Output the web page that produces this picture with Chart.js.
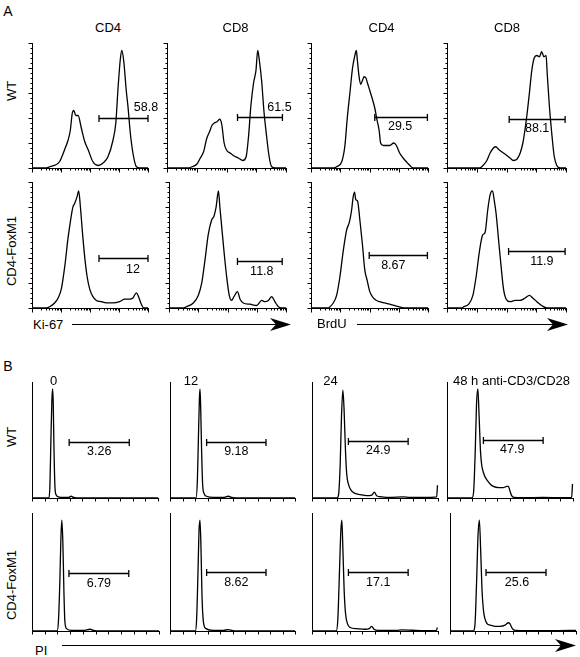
<!DOCTYPE html>
<html><head><meta charset="utf-8">
<script src="https://cdn.jsdelivr.net/npm/chart.js@4.4.1/dist/chart.umd.min.js"></script>
<style>
html,body{margin:0;padding:0;background:#fff;}
#fig{position:relative;width:580px;height:657px;overflow:hidden;font-family:"Liberation Sans",Arial,Helvetica,sans-serif;color:#000;}
#fig canvas{position:absolute;}
.t{position:absolute;font-size:13px;line-height:13px;white-space:nowrap;transform:translate(-50%,-50%);}
.t.r{transform:translate(-50%,-50%) rotate(-90deg);}
.t.l{transform:translate(0,-50%);}
.t.big{font-size:14px;line-height:14px;}
#fig svg{position:absolute;left:0;top:0;}
</style></head><body><div id="fig"></div>
<script>
// ---------- text ----------
const sectionLetters = ['A','B'];
const rowLabels = ['WT','CD4-FoxM1'];
const titlesA = ['CD4','CD8','CD4','CD8'];
const titlesB = ['0','12','24','48 h anti-CD3/CD28'];
const axisLabelsA = ['Ki-67','BrdU'];
const axisLabelB = 'PI';

// ---------- panel A histograms: x = log decades (0-4), y = % of max ----------
const ki67WtCd4 = [[0,0],[0.5,0],[0.61,1],[0.95,5],[1.13,15],[1.24,22],[1.32,30],[1.39,44],[1.44,46],[1.51,42],[1.59,42],[1.70,32],[1.82,21],[1.93,15],[2.10,5],[2.28,2],[2.45,4],[2.62,9],[2.79,22],[2.89,36],[2.97,65],[3.05,88],[3.10,94],[3.17,84],[3.25,62],[3.31,49],[3.39,28],[3.48,12],[3.60,1],[3.71,0],[4,0]];
const ki67WtCd8 = [[0,0],[0.7,0],[0.84,1],[1.0,3],[1.12,8],[1.23,13],[1.34,24],[1.43,29],[1.51,34],[1.59,36],[1.68,37],[1.77,39],[1.84,35],[1.92,20],[2.01,14],[2.12,12],[2.23,10],[2.40,8],[2.55,6],[2.66,9],[2.74,25],[2.82,50],[2.91,68],[2.99,78],[3.05,94],[3.11,85],[3.18,70],[3.26,45],[3.35,25],[3.44,8],[3.52,1],[3.63,0],[4,0]];
const brduWtCd4 = [[0,0],[0.8,0],[0.875,1],[1.05,5],[1.16,18],[1.24,40],[1.33,60],[1.42,80],[1.50,90],[1.55,94],[1.59,85],[1.65,72],[1.70,67],[1.76,70],[1.81,73],[1.88,72],[1.93,68],[2.01,62],[2.10,55],[2.18,48],[2.26,38],[2.33,30],[2.38,20],[2.47,18],[2.58,18],[2.69,18],[2.83,20],[2.92,18],[3.03,12],[3.15,8],[3.26,5],[3.38,2],[3.49,0],[4,0]];
const brduWtCd8 = [[0,0],[1.1,0],[1.17,1],[1.34,6],[1.45,12],[1.56,16],[1.64,17],[1.73,15],[1.84,13],[1.96,11],[2.12,8],[2.23,6],[2.35,7],[2.46,12],[2.55,20],[2.63,32],[2.70,45],[2.77,60],[2.85,78],[2.93,88],[3.02,90],[3.11,89],[3.18,93],[3.26,89],[3.33,90],[3.37,75],[3.44,50],[3.52,28],[3.60,10],[3.69,2],[3.80,0],[4,0]];
const ki67FoxCd4 = [[0,0],[0.5,0],[0.61,1],[0.78,4],[0.90,8],[1.01,15],[1.13,33],[1.24,55],[1.32,68],[1.41,80],[1.47,83],[1.55,88],[1.61,93],[1.67,80],[1.74,60],[1.82,40],[1.90,25],[1.99,15],[2.10,9],[2.22,6],[2.39,5],[2.56,4],[2.79,4],[3.02,5],[3.20,7],[3.37,7],[3.48,8],[3.60,12],[3.69,8],[3.77,3],[3.85,0],[4,0]];
const ki67FoxCd8 = [[0,0],[0.5,0],[0.60,1],[0.83,4],[1.00,10],[1.12,20],[1.23,38],[1.34,58],[1.46,70],[1.54,73],[1.61,80],[1.69,93],[1.74,80],[1.80,65],[1.88,45],[1.97,25],[2.06,10],[2.14,6],[2.22,9],[2.34,13],[2.43,7],[2.54,4],[2.77,3],[3.00,2],[3.17,6],[3.28,5],[3.40,6],[3.51,9],[3.62,5],[3.74,1],[3.85,0],[4,0]];
const brduFoxCd4 = [[0,0],[0.6,0],[0.65,1],[0.76,4],[0.875,10],[0.99,25],[1.10,45],[1.22,62],[1.31,68],[1.39,78],[1.44,88],[1.49,92],[1.53,86],[1.59,85],[1.67,70],[1.76,50],[1.84,30],[1.92,22],[2.01,13],[2.13,8],[2.24,6],[2.35,5],[2.52,4],[2.69,3],[2.92,1.5],[3.09,0.5],[3.20,0],[4,0]];
const brduFoxCd8 = [[0,0],[0.5,0],[0.56,1],[0.73,3],[0.87,10],[0.98,25],[1.09,45],[1.20,58],[1.28,60],[1.37,78],[1.45,90],[1.53,93],[1.59,85],[1.65,75],[1.73,55],[1.81,35],[1.90,15],[1.99,7],[2.12,5],[2.29,6],[2.46,6],[2.63,8],[2.77,10],[2.88,8],[3.02,5],[3.18,2],[3.35,0],[4,0]];

// gates A: [start, end, height] and percentages
const gateA = [[2.31,4.0,40],[2.37,3.88,41],[2.18,3.98,41],[2.09,3.97,39],[2.31,4.0,40],[2.34,3.87,37],[1.99,3.98,42],[2.07,3.97,45]];
const gatePctA = ['58.8','61.5','29.5','88.1','12','11.8','8.67','11.9'];

// ---------- panel B histograms: x = PI channel (0-100 %), y = % of max ----------
const piWt0 = [[0,0],[13.4,0],[14.2,10],[15.0,50],[15.8,85],[16.4,94],[16.9,80],[17.4,45],[18.2,10],[19.0,3],[20.9,1],[24.9,0.5],[29.0,0.5],[31.1,1.5],[33.0,0.5],[38.3,0],[100,0]];
const piWt12 = [[0,0],[20.8,0],[21.9,15],[22.7,50],[23.5,85],[24.0,94],[24.5,80],[25.3,40],[26.1,12],[27.2,4],[29.3,1.5],[34.7,0.5],[42.7,0.5],[46.7,1.5],[49.3,0.5],[56,0],[100,0]];
const piWt24 = [[0,0],[19.7,0],[21.1,3],[22.4,30],[23.4,70],[24.5,93],[25.5,75],[26.6,40],[27.6,20],[28.9,12],[30.8,7],[34.2,4],[38.2,3],[43.4,2],[47.4,2.5],[49.5,5],[51.3,2],[55.3,1],[61.8,0.5],[72.4,1],[77.6,0.5],[88.2,0.5],[98.9,1],[99.6,11]];
const piWt48 = [[0,0],[19.7,0],[21.1,5],[22.4,40],[23.4,80],[24.5,94],[25.5,70],[26.6,40],[27.6,28],[28.9,22],[30.3,18],[32.1,15],[34.2,12],[36.8,10],[40.8,9],[44.7,9],[47.4,10],[48.7,10],[50.0,6],[51.3,2],[53.2,0.5],[60.5,0.3],[76.3,0.5],[92.1,0.3],[98.9,0.5],[99.6,12]];
const piFox0 = [[0,0],[19.8,0],[20.9,10],[22.0,45],[22.8,80],[23.5,94],[24.3,75],[25.1,35],[25.9,8],[27.2,2],[31.2,0.5],[40.5,0.5],[45.8,1.5],[48.4,0.5],[53.7,0],[100,0]];
const piFox12 = [[0,0],[20.3,0],[21.3,10],[22.4,50],[23.2,85],[24.0,94],[24.8,70],[25.6,30],[26.7,8],[28.8,2],[34.7,0.5],[42.7,0.5],[46.7,1.2],[50.1,0.3],[58.7,0],[100,0]];
const piFox24 = [[0,0],[19.2,0],[20.5,10],[21.8,50],[22.9,85],[23.7,94],[24.5,70],[25.5,35],[26.6,15],[28.2,6],[30.3,3],[35.5,2],[42.1,1.5],[45.5,2],[47.4,4],[49.2,1.5],[52.6,0.5],[67.1,0.5],[71.1,1],[88.2,0.3],[98.7,0.5],[99.5,3]];
const piFox48 = [[0,0],[18.5,0],[19.8,5],[21.2,45],[22.2,80],[23.3,94],[24.3,70],[25.4,35],[26.5,18],[27.8,10],[29.6,6],[31.7,5],[35.7,4],[39.7,4],[43.7,5],[46.3,7],[47.6,6],[49.5,2],[51.6,0.5],[63.5,0.3],[84.7,0.3],[100,0.5]];

const gateB = [[29.5,77.2,48],[29.3,76.8,48.6],[28.9,76.3,49],[28.9,76.3,50],[29.1,76.2,49],[29.3,76.8,50],[28.9,76.3,50],[28.6,76.2,50]];
const gatePctB = ['3.26','9.18','24.9','47.9','6.79','8.62','17.1','25.6'];

// ---------- layout (pixels) ----------
const boxesA = [[32,43,116,125],[167,43,119,125],[311,43,117,125],[447,43,119,125],
                [32,182,116,126],[169,182,117,126],[311,182,117,126],[447,182,119,126]];
const labelOffA = [[22.5,-11],[19.5,-10],[-1,9.5],[0,9],[9.5,11.5],[2,10],[-5,10],[5,10.5]];
const boxesB = [[32,382,126,116],[170,382,125,116],[312,382,126,116],[447,382,126,116],
                [32,513,127,118],[170,513,125,118],[312,513,126,118],[450,513,126,118]];
const labelOffB = [[0,9.5],[0,9.5],[0,9.5],[-1,9],[0,10.5],[0,10.5],[0,10.5],[1,10.5]];

const fig = document.getElementById('fig');
const PAD = {left:8, right:16, top:6, bottom:7};

const panelPlugin = {
  id: 'panel',
  afterDatasetsDraw(chart, args, o) {
    const {ctx, chartArea: a, scales: {x, y}} = chart;
    ctx.save();
    ctx.strokeStyle = '#000';
    ctx.lineWidth = 1;
    const L = Math.round(a.left) + 0.5, B = Math.round(a.bottom) + 0.5;
    ctx.beginPath();
    ctx.moveTo(L, Math.round(a.top)); ctx.lineTo(L, B); ctx.lineTo(Math.round(a.right) + 1, B);
    ctx.stroke();
    ctx.beginPath();
    if (o.kind === 'log') {
      for (let d = 0; d <= 4; d++) {
        for (let k = 1; k < 10; k++) {
          if (d === 4 && k > 1) break;
          const px = Math.round(x.getPixelForValue(d + Math.log10(k))) + 0.5;
          const len = k === 1 ? 4 : 2;
          ctx.moveTo(px, B); ctx.lineTo(px, B + len);
        }
      }
      for (let v = 0; v <= 100; v += 4) {
        const py = Math.round(y.getPixelForValue(v)) + 0.5;
        const len = v % 20 === 0 ? 4 : 2;
        ctx.moveTo(L, py); ctx.lineTo(L - len, py);
      }
    } else {
      for (let v = 0; v <= 100; v += 10) {
        const px = Math.round(x.getPixelForValue(v)) + 0.5;
        ctx.moveTo(px, B); ctx.lineTo(px, B + 3);
      }
    }
    ctx.stroke();
    // gate
    const g = o.gate;
    const x1 = x.getPixelForValue(g[0]), x2 = x.getPixelForValue(g[1]);
    const gy = Math.round(y.getPixelForValue(g[2])) + 0.5;
    ctx.lineWidth = 1.3;
    ctx.beginPath();
    ctx.moveTo(x1, gy); ctx.lineTo(x2, gy);
    ctx.moveTo(x1, gy - 3.5); ctx.lineTo(x1, gy + 3.5);
    ctx.moveTo(x2, gy - 3.5); ctx.lineTo(x2, gy + 3.5);
    ctx.stroke();
    ctx.fillStyle = '#000';
    ctx.font = '12.5px "Liberation Sans", Arial, Helvetica, sans-serif';
    ctx.textAlign = 'center';
    ctx.textBaseline = 'middle';
    ctx.fillText(o.label, (x1 + x2) / 2 + o.off[0], gy + o.off[1]);
    ctx.restore();
  }
};

function makePanel(box, data, kind, gate, label, off) {
  const [left, top, w, h] = box;
  const cv = document.createElement('canvas');
  const cw = w + PAD.left + PAD.right, ch = h + PAD.top + PAD.bottom;
  cv.width = cw; cv.height = ch;
  cv.style.left = (left - PAD.left) + 'px';
  cv.style.top = (top - PAD.top) + 'px';
  cv.style.width = cw + 'px'; cv.style.height = ch + 'px';
  fig.appendChild(cv);
  new Chart(cv, {
    type: 'line',
    data: { datasets: [{
      data: data, borderColor: '#000', borderWidth: 1.3, pointRadius: 0,
      fill: false, cubicInterpolationMode: 'monotone', clip: false
    }]},
    options: {
      responsive: false, animation: false, events: [],
      devicePixelRatio: 1,
      layout: { padding: PAD },
      plugins: { legend: {display: false}, tooltip: {enabled: false},
                 panel: { kind, gate, label, off } },
      scales: {
        x: { type: 'linear', min: 0, max: kind === 'log' ? 4 : 100, display: false },
        y: { type: 'linear', min: 0, max: 100, display: false }
      }
    },
    plugins: [panelPlugin]
  });
}

const seriesA = [ki67WtCd4, ki67WtCd8, brduWtCd4, brduWtCd8, ki67FoxCd4, ki67FoxCd8, brduFoxCd4, brduFoxCd8];
const seriesB = [piWt0, piWt12, piWt24, piWt48, piFox0, piFox12, piFox24, piFox48];
seriesA.forEach((d, i) => makePanel(boxesA[i], d, 'log', gateA[i], gatePctA[i], labelOffA[i]));
seriesB.forEach((d, i) => makePanel(boxesB[i], d, 'lin', gateB[i], gatePctB[i], labelOffB[i]));

// ---------- text ----------
function addText(txt, x, y, cls) {
  const d = document.createElement('div');
  d.className = 't' + (cls ? ' ' + cls : '');
  d.textContent = txt;
  d.style.left = x + 'px'; d.style.top = y + 'px';
  fig.appendChild(d);
}
addText(sectionLetters[0], 8, 11, 'big');
addText(sectionLetters[1], 8, 366, 'big');
[108, 235.5, 381.5, 507].forEach((x, i) => addText(titlesA[i], x, 27));
addText(titlesB[0], 53.5, 380);
addText(titlesB[1], 191, 380);
addText(titlesB[2], 330.5, 380);
addText(titlesB[3], 453, 380, 'l');
[[91, 0], [251, 1], [437, 0], [585, 1]].forEach(([y, i]) => addText(rowLabels[i], 11, y, 'r'));
addText(axisLabelsA[0], 33, 324, 'l');
addText(axisLabelsA[1], 317, 323, 'l');
addText(axisLabelB, 35, 650, 'l');

// ---------- arrows ----------
const NS = 'http://www.w3.org/2000/svg';
const svg = document.createElementNS(NS, 'svg');
svg.setAttribute('width', 580); svg.setAttribute('height', 657);
function arrow(x1, x2, y) {
  const ln = document.createElementNS(NS, 'line');
  ln.setAttribute('x1', x1); ln.setAttribute('x2', x2 - 10);
  ln.setAttribute('y1', y); ln.setAttribute('y2', y);
  ln.setAttribute('stroke', '#000'); ln.setAttribute('stroke-width', 1.2);
  svg.appendChild(ln);
  const p = document.createElementNS(NS, 'polygon');
  p.setAttribute('points', `${x2},${y} ${x2-21},${y-6.5} ${x2-15},${y} ${x2-21},${y+6.5}`);
  p.setAttribute('fill', '#000');
  svg.appendChild(p);
}
arrow(72, 291, 324.5);
arrow(357, 568, 324.5);
arrow(62, 576, 645.5);
fig.appendChild(svg);
</script></body></html>
